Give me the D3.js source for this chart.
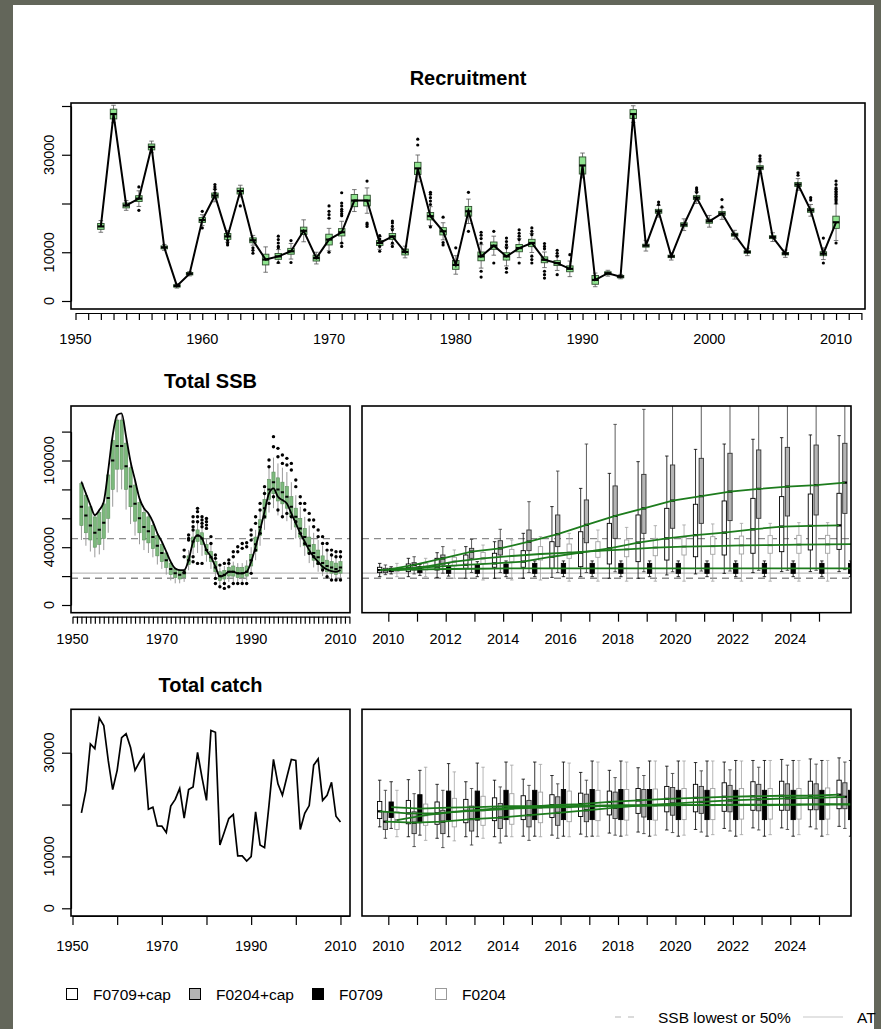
<!DOCTYPE html>
<html>
<head>
<meta charset="utf-8">
<title>Recruitment, SSB and catch</title>
<script src="https://d3js.org/d3.v7.min.js"></script>
<style>
  body { margin: 0; background: #63665a; }
  svg { display: block; }
  text { font-family: "Liberation Sans", Arial, sans-serif; fill: #000; }
  .title { font-weight: bold; font-size: 20px; }
  .tick-label { font-size: 14.5px; }
  .legend text { font-size: 15.5px; }
  .axis path, .axis line { stroke: #000; stroke-width: 1.2; }
  .frame { fill: none; stroke: #000; stroke-width: 1.6; }
</style>
</head>
<body>
<div id="chart"></div>
<script>
// ---------------- data ----------------
var histYears = d3.range(1952, 2011);   // 1952..2010
var projYears = d3.range(2010, 2027);   // 2010..2026

// recruitment (point estimate), box height and whisker length
var recLine = [15300, 38350, 19600, 21000, 31600, 11000, 3100, 5600, 16600, 21650,
  13250, 22550, 12450, 8500, 9150, 10200, 14400, 8800, 12600, 14100,
  20600, 20600, 11900, 13250, 10050, 27200, 17400, 14300, 7400, 18400,
  9150, 11350, 9150, 10850, 11900, 8450, 7770, 6600, 27800, 4330,
  5700, 5000, 38350, 11350, 18400, 9150, 15650, 21200, 16350, 17950,
  13600, 10050, 27350, 13100, 9700, 23900, 18600, 9700, 16150];
var recIQR = [1200, 2000, 1000, 1200, 1200, 600, 500, 500, 1000, 1000,
  1200, 1200, 1000, 2200, 1200, 1200, 1500, 1200, 2200, 1500,
  2500, 2200, 1000, 1200, 1200, 2500, 1500, 1500, 1800, 2000,
  1800, 1500, 1500, 1500, 1500, 1200, 1000, 1200, 3500, 1800,
  600, 500, 1800, 600, 800, 500, 800, 800, 800, 800,
  600, 500, 800, 600, 500, 800, 800, 800, 2500];
var recWhisk = [600, 800, 500, 1000, 600, 300, 200, 200, 600, 800,
  600, 600, 500, 1500, 800, 1000, 1500, 600, 1200, 1500,
  1000, 1500, 800, 1000, 600, 1500, 1200, 1000, 1000, 1500,
  1500, 1200, 1200, 1200, 1200, 1000, 1000, 1000, 800, 500,
  300, 200, 800, 800, 800, 500, 800, 800, 800, 800,
  600, 500, 800, 600, 500, 800, 800, 800, 2500];
var recOutliers = [[1955,23400],[1955,18600],[1960,18400],[1960,15000],
  [1961,23900],[1961,23400],[1961,22900],[1961,22200],[1962,12400],[1962,11900],[1962,11500],
  [1963,19500],[1964,10900],[1964,10400],[1964,9800],
  [1966,13300],[1966,12600],[1966,11900],[1966,11200],[1966,10900],[1966,7900],
  [1967,12400],[1967,7900],[1970,19500],[1970,18400],[1970,17700],[1970,17000],[1970,10000],
  [1971,22200],[1971,20100],[1971,19500],[1971,18800],[1971,18400],[1971,17900],[1971,17500],[1971,11900],[1971,11200],
  [1973,24600],[1973,16000],[1973,15700],[1973,15300],
  [1974,13400],[1974,12700],[1974,12000],[1974,11200],[1974,10200],
  [1975,16400],[1975,16000],[1975,15300],[1975,14600],[1975,11900],[1975,11200],
  [1977,33200],[1977,32000],[1978,22300],[1978,21900],[1978,21200],[1978,20500],[1978,19800],[1978,15200],
  [1979,17200],[1979,12000],[1979,11500],[1980,10900],[1981,22300],[1981,14300],
  [1982,14100],[1982,13500],[1982,12800],[1982,11900],[1982,6100],[1982,4900],
  [1983,14300],[1983,7800],[1984,12900],[1984,12200],[1984,11500],[1984,10900],[1984,6700],[1984,5900],
  [1985,14600],[1985,13900],[1985,13300],[1985,12600],[1985,7800],
  [1986,15000],[1986,14300],[1986,13600],[1986,9200],[1986,8500],[1986,7800],
  [1987,11800],[1987,11200],[1987,10700],[1987,6100],[1987,5400],[1987,4700],
  [1988,10400],[1988,9800],[1988,9200],[1988,5400],[1989,9500],
  [1996,20300],[1996,19800],[1999,23200],[1999,22800],[1999,22300],[2001,20800],[2001,19300],
  [2004,29800],[2004,29200],[2004,28700],[2007,26300],[2007,25800],[2008,21200],[2008,20700],
  [2009,12900],[2009,7800],
  [2010,24600],[2010,23900],[2010,23200],[2010,22900],[2010,22500],[2010,22200],[2010,21900],
  [2010,21500],[2010,21200],[2010,20800],[2010,20500],[2010,20100],[2010,11900]];

// total SSB, historic
var ssbLine = [85300, 77200, 69200, 62200, 65700, 71500, 93400, 117600, 131500, 132600,
  116500, 99200, 86500, 73800, 66900, 63400, 57600, 49600, 43800, 36900,
  29900, 25300, 24200, 24200, 31100, 43800, 48400, 46100, 38000, 33400,
  26500, 19600, 20700, 23000, 23000, 21900, 21900, 23000, 29900, 40300,
  51900, 64600, 77200, 80700, 74900, 72600, 70300, 63400, 56500, 49600,
  43800, 38000, 33400, 29900, 26500, 24600, 23500, 23000, 24200];
var ssbQ1 = [55000, 50000, 45000, 40000, 42000, 46000, 60000, 80000, 94000, 94000,
  80000, 68000, 58000, 50000, 45000, 43000, 39000, 34000, 30000, 26000,
  21000, 19000, 18000, 19000, 28000, 40000, 44000, 42000, 35000, 30000,
  23000, 17000, 18000, 20000, 20000, 19000, 19000, 20000, 27000, 37000,
  48000, 60000, 73000, 77000, 72000, 70000, 67000, 61000, 54000, 47000,
  41000, 36000, 31000, 28000, 25000, 23000, 22000, 21000, 22000];
var ssbMed = [68000, 62000, 55000, 50000, 52000, 57000, 74000, 100000, 110000, 110000,
  96000, 82000, 70000, 60000, 54000, 51000, 47000, 41000, 36000, 31000,
  25000, 22000, 21000, 22000, 31000, 44000, 48000, 46000, 38000, 33000,
  26000, 20000, 21000, 23000, 23000, 22000, 22000, 23000, 31000, 42000,
  54000, 67000, 80000, 85000, 80000, 78000, 75000, 68000, 61000, 53000,
  47000, 41000, 36000, 33000, 29000, 27000, 26000, 25000, 26000];
var ssbQ3 = [84000, 76000, 68000, 61000, 64000, 70000, 90000, 114000, 128000, 128000,
  112000, 95000, 83000, 71000, 64000, 61000, 55000, 48000, 42000, 36000,
  29000, 25000, 24000, 24000, 34000, 47000, 52000, 50000, 42000, 37000,
  30000, 23000, 24000, 26000, 27000, 26000, 26000, 27000, 35000, 47000,
  59000, 73000, 87000, 92000, 88000, 85000, 82000, 75000, 67000, 60000,
  53000, 47000, 42000, 38000, 34000, 31000, 30000, 29000, 30000];
var ssbLo = [45000, 41000, 37000, 33000, 35000, 38000, 50000, 68000, 78000, 80000,
  66000, 56000, 48000, 42000, 38000, 36000, 33000, 28000, 25000, 21000,
  17000, 15000, 15000, 16000, 24000, 35000, 36000, 34000, 30000, 25000,
  19000, 13000, 14000, 16000, 16000, 16000, 16000, 17000, 23000, 31000,
  41000, 52000, 64000, 67000, 62000, 60000, 58000, 52000, 46000, 40000,
  34000, 29000, 26000, 23000, 20000, 18000, 17000, 17000, 17000];
var ssbHi = [86000, 78000, 70000, 63000, 66000, 72000, 93000, 117000, 131000, 132000,
  116000, 99000, 86000, 74000, 67000, 63000, 58000, 50000, 44000, 37000,
  30000, 26000, 25000, 25000, 38000, 52000, 58000, 56000, 46000, 42000,
  33000, 26000, 27000, 29000, 30000, 29000, 29000, 31000, 40000, 52000,
  66000, 80000, 95000, 102000, 98000, 95000, 92000, 85000, 76000, 68000,
  61000, 55000, 50000, 45000, 41000, 37000, 36000, 35000, 35000];
var ssbOutliers = [[1975,38000],[1975,33400],[1975,22600],[1976,48400],[1976,46100],[1976,45000],
  [1977,61100],[1977,57600],[1977,54200],[1977,51900],[1977,33400],[1977,29900],
  [1978,66900],[1978,64600],[1978,61100],[1978,57600],[1978,28800],
  [1979,61100],[1979,58800],[1979,56500],[1979,54200],[1979,28800],
  [1980,59900],[1980,57600],[1980,55300],[1980,53000],[1981,47300],[1981,42600],
  [1982,34600],[1982,32300],[1982,18400],[1982,14900],[1983,27600],[1983,12600],
  [1984,28800],[1984,14900],[1984,11500],[1985,31100],[1985,28800],[1985,12600],
  [1986,36900],[1986,33400],[1986,14900],[1987,40300],[1987,36900],[1987,14900],
  [1988,42600],[1988,39200],[1988,14900],[1989,43100],[1989,40300],[1989,14900],
  [1990,51900],[1990,48400],[1990,44900],[1990,21900],[1991,61100],[1991,56500],[1991,38000],
  [1992,70300],[1992,65700],[1992,49600],[1993,81900],[1993,77200],[1993,61100],
  [1994,100300],[1994,95700],[1994,70300],[1995,116500],[1995,109500],[1995,74900],
  [1996,108400],[1996,102600],[1996,65700],[1997,103800],[1997,98000],[1997,61100],
  [1998,101500],[1998,96900],[1998,63400],[1999,98000],[1999,93400],[1999,61100],
  [2000,86500],[2000,81900],[2000,57600],[2001,74900],[2001,70300],[2001,49600],
  [2002,70300],[2002,65700],[2002,42600],[2003,63400],[2003,58800],[2003,35700],
  [2004,58800],[2004,54200],[2004,33400],[2005,51900],[2005,47300],[2005,28800],
  [2006,47300],[2006,42600],[2006,24200],[2007,42600],[2007,38000],[2007,19600],
  [2008,38000],[2008,34600],[2008,17300],[2009,36900],[2009,33400],[2009,17300],
  [2010,36900],[2010,33400],[2010,17300]];
var ssbRefDashed = [46000, 18500];   // SSB lowest or 50%
var ssbRefSolid = [22000];

// total catch, historic
var catchLine = [18400, 22750, 31700, 30800, 36700, 35250, 28500, 22900, 26600, 32900,
  33650, 31000, 26600, 28200, 29600, 19100, 19500, 15900, 15850, 14600,
  19700, 21000, 23100, 17400, 22900, 23400, 30050, 25200, 20800, 34300,
  33950, 12200, 14700, 17300, 18100, 10100, 10100, 9100, 9950, 18600,
  12200, 11700, 19900, 28700, 24000, 21800, 25300, 28700, 28500, 15200,
  18300, 19800, 27600, 28800, 20800, 21800, 24300, 17750, 16650];

// projections, one set of arrays per scenario (2010..2026)
var scenarios = ["F0709+cap", "F0204+cap", "F0709", "F0204"];

var ssbA_med = [24200, 25400, 26500, 27700, 28800, 30000, 33400, 36200, 39200, 43100, 46100, 48400, 50100, 52400, 54200, 54700, 55100];
var ssbA_q1 = [22400, 23100, 24200, 25400, 26100, 26100, 25400, 26500, 28400, 30000, 31100, 33400, 34600, 35800, 36900, 38100, 38500];
var ssbA_q3 = [26100, 28400, 32300, 34600, 35800, 37600, 43800, 50700, 56500, 62300, 66900, 69700, 72000, 73800, 75000, 76800, 77300];
var ssbA_lo = [19600, 19600, 19100, 18500, 18500, 18500, 19100, 19600, 18500, 18500, 20800, 21500, 21900, 22400, 23100, 23100, 23100];
var ssbA_hi = [28800, 32300, 36200, 40400, 43800, 49600, 68100, 80700, 91100, 99200, 103100, 107700, 111400, 114700, 115800, 117700, 117200];

var ssbB_med = [24200, 27700, 32300, 36900, 39200, 43800, 49100, 55400, 61600, 66900, 72200, 75400, 78400, 80300, 81900, 83000, 84700];
var ssbB_q1 = [22400, 24200, 27700, 32300, 34600, 37600, 40400, 43100, 46100, 49600, 53100, 56500, 58400, 60000, 61600, 62300, 63400];
var ssbB_q3 = [25400, 29300, 34600, 39200, 44500, 51900, 62300, 72700, 82400, 90400, 96900, 101500, 105000, 107300, 109100, 110700, 111900];
var ssbB_lo = [21000, 21500, 22000, 22500, 22500, 22500, 22500, 22500, 23000, 23000, 23000, 23500, 23500, 24000, 24000, 24000, 24500];
var ssbB_hi = [27700, 33400, 40400, 45400, 52400, 71500, 92700, 111400, 125000, 135400, 145000, 150000, 155000, 158000, 160000, 162000, 165000];

var ssbC_med = [24200, 24700, 24900, 25100, 25400, 25400, 25400, 25400, 25400, 25400, 25400, 25400, 25400, 25400, 25400, 25400, 25400];
var ssbC_q1 = [23100, 22400, 21900, 21900, 21900, 21900, 21900, 21900, 21900, 21900, 21900, 21900, 21900, 21900, 21900, 21900, 21900];
var ssbC_q3 = [25400, 26500, 27000, 27700, 28400, 28800, 28800, 28800, 28800, 28800, 28800, 28800, 28800, 28800, 28800, 28800, 28800];
var ssbC_lo = [21500, 20500, 20000, 19600, 19600, 19600, 19600, 19600, 19600, 19600, 19600, 19600, 19600, 19600, 19600, 19600, 19600];
var ssbC_hi = [26500, 28000, 29000, 30000, 30500, 30500, 30500, 30500, 30500, 30500, 30500, 30500, 30500, 30500, 30500, 30500, 30500];

var ssbD_med = [24200, 26500, 30000, 32300, 33900, 35300, 36200, 37400, 38500, 39700, 40400, 40800, 41300, 41500, 41800, 42000, 42200];
var ssbD_q1 = [23100, 24200, 27000, 28800, 30000, 31100, 32300, 33000, 33400, 34100, 34600, 35100, 35300, 35800, 35800, 35800, 36200];
var ssbD_q3 = [25400, 28800, 33000, 36400, 38500, 40400, 42200, 43800, 45000, 46100, 46800, 47300, 47700, 48000, 48200, 48200, 48400];
var ssbD_lo = [19600, 19600, 18500, 17300, 17300, 17300, 16500, 16500, 16500, 16500, 16500, 16500, 16500, 16500, 16500, 16500, 16500];
var ssbD_hi = [28800, 32300, 38100, 41500, 45000, 47300, 49600, 51900, 53700, 54900, 55400, 56100, 56500, 56500, 57000, 57000, 57700];

var catA_med = [18700, 18300, 18300, 18800, 19200, 19500, 19900, 20100, 20500, 20800, 21100, 21300, 21500, 21600, 21700, 21700, 21900];
var catA_q1 = [17300, 16300, 16200, 16500, 16900, 17100, 17500, 17700, 18000, 18300, 18600, 18600, 18700, 18900, 18900, 19000, 19200];
var catA_q3 = [20600, 20800, 20500, 21000, 21300, 21700, 21900, 22200, 22600, 23100, 23500, 23900, 24200, 24400, 24500, 24500, 24700];
var catA_lo = [15700, 13800, 13500, 13800, 13800, 13900, 14100, 14300, 14500, 14700, 15100, 15200, 15400, 15500, 15500, 15700, 15800];
var catA_hi = [24700, 24800, 23900, 24400, 24700, 24900, 25600, 26200, 26600, 27100, 27400, 28100, 28200, 28500, 28700, 28800, 29000];

var catB_med = [16700, 16500, 16700, 17200, 17500, 17950, 18400, 18900, 19400, 19900, 20200, 20500, 20800, 21000, 21200, 21300, 21500];
var catB_q1 = [15200, 14400, 14400, 14900, 15400, 15700, 16000, 16700, 17300, 17600, 17950, 18300, 18600, 18800, 18900, 19000, 19200];
var catB_q3 = [18600, 18600, 18900, 19700, 20200, 20800, 21500, 22000, 22400, 22900, 23300, 23500, 23700, 23900, 24000, 24000, 24200];
var catB_lo = [13500, 11900, 11700, 12200, 12600, 13100, 13500, 13800, 14100, 14400, 14600, 14700, 14900, 15100, 15200, 15300, 15400];
var catB_hi = [22750, 22100, 22750, 23100, 23400, 23700, 24000, 24700, 25200, 25600, 26000, 26500, 26700, 27200, 27600, 27800, 28200];

var catC_med = [19500, 19200, 19400, 19500, 19700, 19700, 19700, 19800, 19900, 19900, 19900, 19900, 20000, 20000, 20000, 20100, 20100];
var catC_q1 = [17500, 16500, 17000, 17000, 17100, 17100, 17100, 17100, 17100, 17100, 17100, 17100, 17100, 17100, 17100, 17100, 17100];
var catC_q3 = [20500, 21900, 22600, 22600, 22750, 22750, 22900, 22900, 22900, 22900, 22750, 22750, 22750, 22750, 22750, 22750, 22750];
var catC_lo = [15400, 14100, 13800, 13800, 13900, 13900, 13900, 13900, 13900, 13900, 13900, 13900, 13900, 13900, 13900, 13900, 13900];
var catC_hi = [24400, 26600, 27900, 28000, 28200, 28200, 28200, 28400, 28400, 28400, 28400, 28400, 28500, 28500, 28500, 28500, 28500];

var catD_med = [17000, 17950, 18600, 18900, 19200, 19400, 19500, 19700, 19700, 19800, 19900, 19900, 19900, 19900, 20000, 20000, 20000];
var catD_q1 = [15200, 16000, 15700, 16000, 16200, 16500, 16700, 16900, 17000, 17000, 17100, 17100, 17200, 17200, 17200, 17200, 17300];
var catD_q3 = [18600, 20100, 21200, 21600, 22100, 22400, 22600, 22750, 22900, 23000, 23100, 23100, 23100, 23100, 23100, 23200, 23200];
var catD_lo = [13800, 13100, 13000, 13500, 13800, 13800, 13800, 13900, 14100, 14100, 14100, 14200, 14200, 14200, 14200, 14200, 14300];
var catD_hi = [22750, 27200, 26300, 27200, 27600, 27750, 28000, 28200, 28200, 28400, 28400, 28400, 28400, 28500, 28500, 28500, 28500];

// axis ticks and labels
var recYTicks = [0, 10000, 20000, 30000, 40000];
var recYLabels = ["0", "10000", "", "30000", ""];
var recXLabels = [1950, 1960, 1970, 1980, 1990, 2000, 2010];
var ssbYTicks = [0, 20000, 40000, 60000, 80000, 100000, 120000];
var ssbYLabels = ["0", "", "40000", "", "", "100000", ""];
var catYTicks = [0, 10000, 20000, 30000];
var catYLabels = ["0", "10000", "", "30000"];
var histXLabels = [1950, 1970, 1990, 2010];
var projXLabels = [2010, 2012, 2014, 2016, 2018, 2020, 2022, 2024];
var lineLegend = ["SSB lowest or 50%", "AT"];

// ---------------- layout ----------------
var W = 881, H = 1029;
var boxRec = {x0: 71, x1: 865, y0: 103, y1: 309};
var boxSsbL = {x0: 71, x1: 350, y0: 406, y1: 612.7};
var boxSsbR = {x0: 362, x1: 851, y0: 406, y1: 612.7};
var boxCatL = {x0: 71, x1: 350, y0: 709.3, y1: 916};
var boxCatR = {x0: 362, x1: 851, y0: 709.3, y1: 916};

var xRec = d3.scaleLinear().domain([1950, 2012]).range([75.5, 861.4]);
var xHist = d3.scaleLinear().domain([1950, 2012]).range([72.5, 349.4]);
var xProj = d3.scaleLinear().domain([2010, 2025]).range([388.3, 819]);
var yRec = d3.scaleLinear().domain([0, 40000]).range([301, 106]);
var ySsb = d3.scaleLinear().domain([0, 120000]).range([605, 431.6]);
var yCat = d3.scaleLinear().domain([0, 30000]).range([908.3, 752.7]);

var shift = [-0.3, -0.1, 0.1, 0.3];
var projStyle = [
  {fill: "#ffffff", stroke: "#000000", whisker: "#000000", med: "#000000"},
  {fill: "#b4b4b4", stroke: "#333333", whisker: "#333333", med: "#000000"},
  {fill: "#000000", stroke: "#000000", whisker: "#000000", med: "#000000"},
  {fill: "#ffffff", stroke: "#a3a3a3", whisker: "#a3a3a3", med: "#8a8a8a"}
];
var green = "#1d7c1d";

var svg = d3.select("#chart").append("svg").attr("width", W).attr("height", H);
svg.append("rect").attr("width", W).attr("height", H).attr("fill", "#63665a");
svg.append("rect").attr("x", 13).attr("y", 5).attr("width", 861).attr("height", H - 5).attr("fill", "#fff");

var defs = svg.append("defs");
function panel(id, b) {
  defs.append("clipPath").attr("id", id).append("rect")
    .attr("x", b.x0).attr("y", b.y0).attr("width", b.x1 - b.x0).attr("height", b.y1 - b.y0);
  var g = svg.append("g");
  var plot = g.append("g").attr("clip-path", "url(#" + id + ")");
  return {g: g, plot: plot, b: b};
}
function frame(p) {
  p.g.append("rect").attr("class", "frame")
    .attr("x", p.b.x0).attr("y", p.b.y0).attr("width", p.b.x1 - p.b.x0).attr("height", p.b.y1 - p.b.y0);
}
function xAxis(p, x, ticks, labels, offset, len, baseline) {
  p.g.append("g").attr("class", "axis")
    .attr("transform", "translate(0," + (p.b.y1 + offset) + ")")
    .call(d3.axisBottom(x).tickValues(ticks).tickSize(len).tickSizeOuter(0).tickFormat(""));
  p.g.selectAll(null).data(labels).enter().append("text")
    .attr("class", "tick-label").attr("text-anchor", "middle")
    .attr("x", function(d) { return x(d); }).attr("y", baseline)
    .text(function(d) { return d; });
}
function yAxis(p, y, ticks, labels) {
  p.g.append("g").attr("class", "axis")
    .attr("transform", "translate(" + p.b.x0 + ",0)")
    .call(d3.axisLeft(y).tickValues(ticks).tickSize(9).tickSizeOuter(0).tickFormat(""));
  p.g.selectAll(null).data(ticks).enter().append("text")
    .attr("class", "tick-label").attr("text-anchor", "middle")
    .attr("transform", function(d) { return "translate(54," + y(d) + ") rotate(-90)"; })
    .text(function(d, i) { return labels[i]; });
}
function title(p, txt, baseline) {
  p.g.append("text").attr("class", "title").attr("text-anchor", "middle")
    .attr("x", (p.b.x0 + p.b.x1) / 2).attr("y", baseline).text(txt);
}
function boxes(g, rows, x, y, w, st) {
  var s = g.append("g");
  s.selectAll(null).data(rows).enter().append("line")
    .attr("x1", function(d) { return x(d.x); }).attr("x2", function(d) { return x(d.x); })
    .attr("y1", function(d) { return y(d.hi); }).attr("y2", function(d) { return y(d.lo); })
    .attr("stroke", st.whisker).attr("stroke-width", st.ww);
  if (st.cap > 0) {
    var caps = [];
    rows.forEach(function(d) { caps.push([d.x, d.hi], [d.x, d.lo]); });
    s.selectAll(null).data(caps).enter().append("line")
      .attr("x1", function(d) { return x(d[0]) - w * st.cap; })
      .attr("x2", function(d) { return x(d[0]) + w * st.cap; })
      .attr("y1", function(d) { return y(d[1]); }).attr("y2", function(d) { return y(d[1]); })
      .attr("stroke", st.whisker).attr("stroke-width", st.ww);
  }
  s.selectAll(null).data(rows).enter().append("rect")
    .attr("x", function(d) { return x(d.x) - w / 2; })
    .attr("y", function(d) { return y(d.q3); })
    .attr("width", w)
    .attr("height", function(d) { return Math.max(0.8, y(d.q1) - y(d.q3)); })
    .attr("fill", st.fill).attr("stroke", st.stroke).attr("stroke-width", st.sw);
  s.selectAll(null).data(rows).enter().append("line")
    .attr("x1", function(d) { return x(d.x) - w / 2; })
    .attr("x2", function(d) { return x(d.x) + w / 2; })
    .attr("y1", function(d) { return y(d.med); }).attr("y2", function(d) { return y(d.med); })
    .attr("stroke", st.med).attr("stroke-width", st.mw);
}
function refLines(p, y) {
  ssbRefDashed.forEach(function(v) {
    p.plot.append("line").attr("x1", p.b.x0).attr("x2", p.b.x1).attr("y1", y(v)).attr("y2", y(v))
      .attr("stroke", "#8c8c8c").attr("stroke-width", 1.3).attr("stroke-dasharray", "7,5");
  });
  ssbRefSolid.forEach(function(v) {
    p.plot.append("line").attr("x1", p.b.x0).attr("x2", p.b.x1).attr("y1", y(v)).attr("y2", y(v))
      .attr("stroke", "#bdbdbd").attr("stroke-width", 1.2);
  });
}
function projRows(k, med, q1, q3, lo, hi) {
  return projYears.map(function(yr, i) {
    return {x: yr + shift[k], med: med[i], q1: q1[i], q3: q3[i], lo: lo[i], hi: hi[i]};
  });
}
function projPanel(p, y, sets) {
  sets.forEach(function(rows, k) {
    var st = projStyle[k];
    boxes(p.plot, rows, xProj, y, 4.3,
      {fill: st.fill, stroke: st.stroke, sw: 0.9, whisker: st.whisker, ww: 0.8, cap: 0.4, med: st.med, mw: 2.2});
  });
  var ln = d3.line().x(function(d) { return xProj(d.x); }).y(function(d) { return y(d.med); });
  sets.forEach(function(rows) {
    p.plot.append("path").attr("d", ln(rows)).attr("fill", "none")
      .attr("stroke", green).attr("stroke-width", 1.8);
  });
}

// ---------------- recruitment ----------------
var pRec = panel("clipRec", boxRec);
var recRows = histYears.map(function(yr, i) {
  var q1 = recLine[i] - recIQR[i] / 2, q3 = recLine[i] + recIQR[i] / 2;
  return {x: yr, med: recLine[i], q1: q1, q3: q3, lo: q1 - recWhisk[i], hi: q3 + recWhisk[i]};
});
boxes(pRec.plot, recRows, xRec, yRec, 6.5,
  {fill: "#8fe48f", stroke: "#2f4f2f", sw: 0.9, whisker: "#555", ww: 0.8, cap: 0.35, med: "#000", mw: 2.2});
pRec.plot.selectAll(null).data(recOutliers).enter().append("circle")
  .attr("cx", function(d) { return xRec(d[0]); }).attr("cy", function(d) { return yRec(d[1]); })
  .attr("r", 1.6).attr("fill", "#000");
pRec.plot.append("path")
  .attr("d", d3.line().x(function(d, i) { return xRec(histYears[i]); }).y(function(d) { return yRec(d); })(recLine))
  .attr("fill", "none").attr("stroke", "#000").attr("stroke-width", 2);
frame(pRec);
yAxis(pRec, yRec, recYTicks, recYLabels);
xAxis(pRec, xRec, d3.range(1950, 2013), recXLabels, 4, 7, 344);
title(pRec, "Recruitment", 85);

// ---------------- SSB ----------------
var pSsbL = panel("clipSsbL", boxSsbL);
refLines(pSsbL, ySsb);
var ssbRows = histYears.map(function(yr, i) {
  return {x: yr, med: ssbMed[i], q1: ssbQ1[i], q3: ssbQ3[i], lo: ssbLo[i], hi: ssbHi[i]};
});
boxes(pSsbL.plot, ssbRows, xHist, ySsb, 3.2,
  {fill: "#7cb97c", stroke: "#5f915f", sw: 0.6, whisker: "#9a9a9a", ww: 1, cap: 0, med: "#000", mw: 2});
pSsbL.plot.selectAll(null).data(ssbOutliers).enter().append("circle")
  .attr("cx", function(d) { return xHist(d[0]); }).attr("cy", function(d) { return ySsb(d[1]); })
  .attr("r", 1.7).attr("fill", "#000");
pSsbL.plot.append("path")
  .attr("d", d3.line().curve(d3.curveMonotoneX)
    .x(function(d, i) { return xHist(histYears[i]); }).y(function(d) { return ySsb(d); })(ssbLine))
  .attr("fill", "none").attr("stroke", "#000").attr("stroke-width", 1.8);
frame(pSsbL);
yAxis(pSsbL, ySsb, ssbYTicks, ssbYLabels);
xAxis(pSsbL, xHist, d3.range(1950, 2013), histXLabels, 4, 7, 644);
title(pSsbL, "Total SSB", 388);

var pSsbR = panel("clipSsbR", boxSsbR);
refLines(pSsbR, ySsb);
projPanel(pSsbR, ySsb, [
  projRows(0, ssbA_med, ssbA_q1, ssbA_q3, ssbA_lo, ssbA_hi),
  projRows(1, ssbB_med, ssbB_q1, ssbB_q3, ssbB_lo, ssbB_hi),
  projRows(2, ssbC_med, ssbC_q1, ssbC_q3, ssbC_lo, ssbC_hi),
  projRows(3, ssbD_med, ssbD_q1, ssbD_q3, ssbD_lo, ssbD_hi)
]);
frame(pSsbR);
xAxis(pSsbR, xProj, d3.range(2010, 2026), projXLabels, 0, 9, 644);

// ---------------- catch ----------------
var pCatL = panel("clipCatL", boxCatL);
pCatL.plot.append("path")
  .attr("d", d3.line().x(function(d, i) { return xHist(histYears[i]); }).y(function(d) { return yCat(d); })(catchLine))
  .attr("fill", "none").attr("stroke", "#000").attr("stroke-width", 1.7);
frame(pCatL);
yAxis(pCatL, yCat, catYTicks, catYLabels);
xAxis(pCatL, xHist, d3.range(1950, 2011, 10), histXLabels, 0, 9, 951);
title(pCatL, "Total catch", 691.5);

var pCatR = panel("clipCatR", boxCatR);
projPanel(pCatR, yCat, [
  projRows(0, catA_med, catA_q1, catA_q3, catA_lo, catA_hi),
  projRows(1, catB_med, catB_q1, catB_q3, catB_lo, catB_hi),
  projRows(2, catC_med, catC_q1, catC_q3, catC_lo, catC_hi),
  projRows(3, catD_med, catD_q1, catD_q3, catD_lo, catD_hi)
]);
frame(pCatR);
xAxis(pCatR, xProj, d3.range(2010, 2026), projXLabels, 0, 9, 951);

// ---------------- legends ----------------
var leg = svg.append("g").attr("class", "legend");
var item = leg.selectAll(null).data(scenarios).enter().append("g")
  .attr("transform", function(d, i) { return "translate(" + (72 + i * 123) + ",994)"; });
item.append("rect").attr("x", -5.5).attr("y", -5.5).attr("width", 11).attr("height", 11)
  .attr("fill", function(d, i) { return projStyle[i].fill; })
  .attr("stroke", function(d, i) { return i === 3 ? "#9a9a9a" : "#000"; }).attr("stroke-width", 1);
item.append("text").attr("x", 21).attr("y", 5.5).text(function(d) { return d; });

var leg2 = leg.append("g").attr("transform", "translate(0,1017)");
leg2.append("line").attr("x1", 615).attr("x2", 640).attr("y1", 0).attr("y2", 0)
  .attr("stroke", "#b5b5b5").attr("stroke-width", 1.2).attr("stroke-dasharray", "6,7");
leg2.append("text").attr("x", 658).attr("y", 5.5).text(lineLegend[0]);
leg2.append("line").attr("x1", 803).attr("x2", 843).attr("y1", 0).attr("y2", 0)
  .attr("stroke", "#c8c8c8").attr("stroke-width", 1.2);
leg2.append("text").attr("x", 857).attr("y", 5.5).text(lineLegend[1]);
</script>
</body>
</html>
